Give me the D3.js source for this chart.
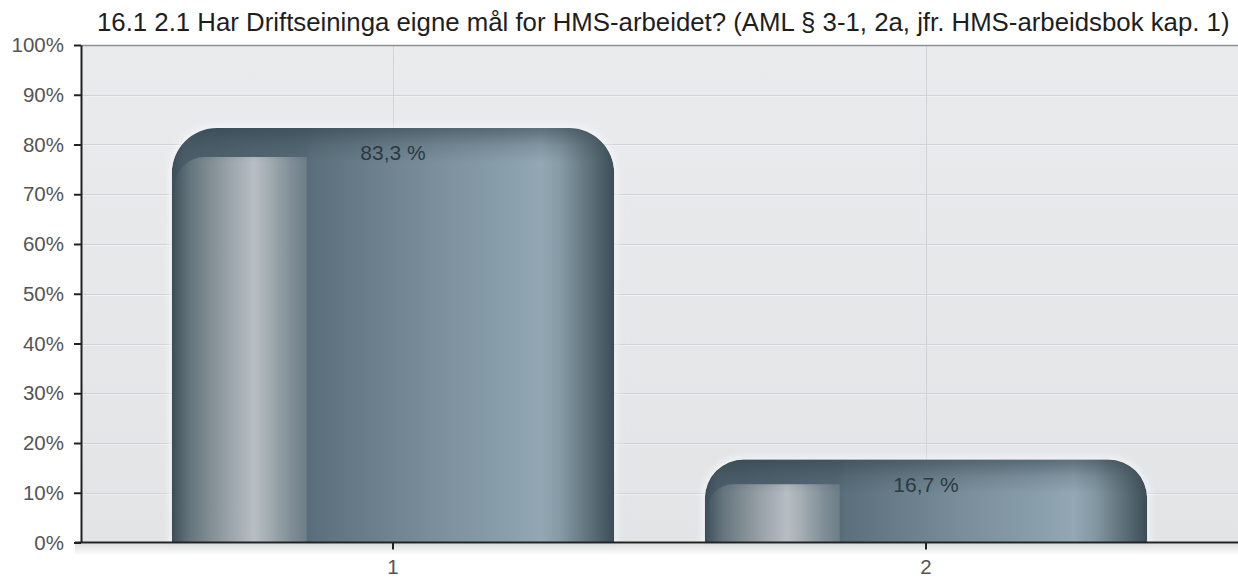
<!DOCTYPE html>
<html>
<head>
<meta charset="utf-8">
<script src="https://cdn.jsdelivr.net/npm/d3@7"></script>
<style>
  html, body { margin: 0; padding: 0; background: #fff; }
  svg { display: block; font-family: "Liberation Sans", Arial, sans-serif; }
</style>
</head>
<body>
<svg id="chart" width="1238" height="578"></svg>
<script>
// ---- data ----
const title = "16.1 2.1 Har Driftseininga eigne mål for HMS-arbeidet? (AML § 3-1, 2a, jfr. HMS-arbeidsbok kap. 1)";
const categories = ["1", "2"];
const values = [83.3, 16.7];
const valueLabels = ["83,3 %", "16,7 %"];
const yTicks = [0, 10, 20, 30, 40, 50, 60, 70, 80, 90, 100];
const yTickLabels = ["0%", "10%", "20%", "30%", "40%", "50%", "60%", "70%", "80%", "90%", "100%"];

// ---- layout ----
const W = 1238, H = 578;
const plot = { left: 81, right: 1238, top: 45, bottom: 542.5 };

const svg = d3.select("#chart");
const defs = svg.append("defs");

const y = d3.scaleLinear().domain([0, 100]).range([plot.bottom, plot.top]);
const x = d3.scaleBand().domain(categories).range([126.5, 1192.5])
  .paddingInner(0.17).paddingOuter(0.085);

// gradients
function linGrad(id, stops, vertical) {
  const g = defs.append("linearGradient").attr("id", id)
    .attr("x1", 0).attr("y1", 0).attr("x2", vertical ? 0 : 1).attr("y2", vertical ? 1 : 0);
  stops.forEach(s => g.append("stop").attr("offset", s[0]).attr("stop-color", s[1])
    .attr("stop-opacity", s[2] == null ? 1 : s[2]));
}
linGrad("bgGrad", [[0, "#e9ebed"], [1, "#e2e4e6"]], true);
linGrad("barGrad", [
  [0, "#3c4e59"], [0.03, "#4b5e69"], [0.3, "#566b77"], [0.32, "#5b707c"],
  [0.45, "#6a7f8b"], [0.6, "#7b909c"], [0.75, "#889eaa"], [0.835, "#93a8b4"],
  [0.88, "#8499a4"], [0.95, "#5b6d77"], [1, "#3c4d57"]
], false);
linGrad("panelGrad", [
  [0, "#44555e"], [0.12, "#66767e"], [0.35, "#8f9a9f"], [0.6, "#b7bec4"],
  [0.7, "#a6afb4"], [0.88, "#7f8e96"], [1, "#6d7e87"]
], false);
linGrad("topShade", [[0, "#2e3f49", 0.55], [0.5, "#2e3f49", 0.18], [1, "#2e3f49", 0]], true);
linGrad("axisShadow", [[0, "#000", 0.13], [1, "#000", 0]], true);

const blur = defs.append("filter").attr("id", "halo").attr("x", "-10%").attr("y", "-10%")
  .attr("width", "120%").attr("height", "120%");
blur.append("feGaussianBlur").attr("stdDeviation", 3);

// plot background
svg.append("rect").attr("x", plot.left).attr("y", plot.top)
  .attr("width", plot.right - plot.left).attr("height", plot.bottom - plot.top)
  .attr("fill", "url(#bgGrad)");

// horizontal gridlines
const grid = svg.append("g");
grid.selectAll("line.h").data(yTicks.filter(d => d > 0 && d < 100)).join("line")
  .attr("x1", plot.left).attr("x2", plot.right)
  .attr("y1", d => Math.round(y(d)) + 0.5).attr("y2", d => Math.round(y(d)) + 0.5)
  .attr("stroke", "#d0d3d6").attr("stroke-width", 1);
grid.selectAll("line.hl").data(yTicks.filter(d => d > 0 && d < 100)).join("line")
  .attr("x1", plot.left).attr("x2", plot.right)
  .attr("y1", d => Math.round(y(d)) + 1.5).attr("y2", d => Math.round(y(d)) + 1.5)
  .attr("stroke", "#f2f4f6").attr("stroke-width", 1).attr("opacity", 0.7);
// vertical gridlines
grid.selectAll("line.v").data(categories).join("line")
  .attr("x1", d => Math.round(x(d) + x.bandwidth() / 2) + 0.5)
  .attr("x2", d => Math.round(x(d) + x.bandwidth() / 2) + 0.5)
  .attr("y1", plot.top).attr("y2", plot.bottom)
  .attr("stroke", "#d0d3d6").attr("stroke-width", 1);

// top border
svg.append("line").attr("x1", plot.left).attr("x2", plot.right)
  .attr("y1", plot.top + 0.5).attr("y2", plot.top + 0.5)
  .attr("stroke", "#8e9194").attr("stroke-width", 1.5);

// bars
function barPath(x0, w, top, bottom, r) {
  return `M${x0},${bottom} L${x0},${top + r} A${r},${r} 0 0 1 ${x0 + r},${top} ` +
    `L${x0 + w - r},${top} A${r},${r} 0 0 1 ${x0 + w},${top + r} L${x0 + w},${bottom} Z`;
}
const bars = categories.map((c, i) => {
  const top = y(values[i]);
  const h = plot.bottom - top;
  return { c, i, x0: x(c), w: x.bandwidth(), top, h, r: Math.min(45, h * 0.47) };
});

const gBars = svg.append("g");
// halo
gBars.selectAll("path.halo").data(bars).join("path")
  .attr("d", d => barPath(d.x0, d.w, d.top, plot.bottom, d.r))
  .attr("fill", "none").attr("stroke", "#f7f9fb").attr("stroke-width", 6)
  .attr("filter", "url(#halo)").attr("opacity", 0.75);

bars.forEach(d => {
  defs.append("clipPath").attr("id", "clip" + d.i)
    .append("path").attr("d", barPath(d.x0, d.w, d.top, plot.bottom, d.r));
});

const bg = gBars.selectAll("g.bar").data(bars).join("g").attr("class", "bar")
  .attr("clip-path", d => `url(#clip${d.i})`);
bg.append("path").attr("d", d => barPath(d.x0, d.w, d.top, plot.bottom, d.r))
  .attr("fill", "url(#barGrad)");
// inner highlighted panel
bg.append("path").attr("d", d => {
  const off = Math.min(29, d.h * 0.3);
  const px = d.x0 + 3, pw = d.w * 0.305 - 3, pt = d.top + off, pr = Math.min(30, d.h * 0.3);
  return `M${px},${plot.bottom} L${px},${pt + pr} A${pr},${pr} 0 0 1 ${px + pr},${pt} L${px + pw},${pt} L${px + pw},${plot.bottom} Z`;
}).attr("fill", "url(#panelGrad)");
// top shading
bg.append("rect").attr("x", d => d.x0).attr("y", d => d.top)
  .attr("width", d => d.w).attr("height", 34).attr("fill", "url(#topShade)");

// value labels
svg.append("g").selectAll("text").data(bars).join("text")
  .attr("x", d => d.x0 + d.w / 2)
  .attr("y", d => d.top + 25)
  .attr("dy", "0.35em")
  .attr("text-anchor", "middle")
  .attr("font-size", 21)
  .attr("fill", "#2b3943")
  .text(d => valueLabels[d.i]);

// x-axis shadow
svg.append("rect").attr("x", 75).attr("y", plot.bottom + 1)
  .attr("width", plot.right - 75).attr("height", 12).attr("fill", "url(#axisShadow)");

// y axis
const yAxis = svg.append("g").attr("transform", `translate(${plot.left},0)`)
  .call(d3.axisLeft(y).tickValues(yTicks).tickFormat((d, i) => yTickLabels[i])
    .tickSize(7).tickSizeOuter(0).tickPadding(10));
yAxis.select(".domain").attr("stroke", "#222").attr("stroke-width", 2);
yAxis.selectAll(".tick line").attr("stroke", "#222").attr("stroke-width", 2);
yAxis.selectAll(".tick text").attr("font-size", 20.5).attr("fill", "#555")
  .attr("font-family", "Liberation Sans, Arial, sans-serif");

// x axis
const xAxis = svg.append("g").attr("transform", `translate(0,${plot.bottom})`)
  .call(d3.axisBottom(x).tickSize(7).tickSizeOuter(0).tickPadding(10));
xAxis.select(".domain").remove();
xAxis.append("line").attr("x1", 75).attr("x2", plot.right).attr("y1", 0).attr("y2", 0)
  .attr("stroke", "#222").attr("stroke-width", 2);
xAxis.selectAll(".tick line").attr("stroke", "#222").attr("stroke-width", 2);
xAxis.selectAll(".tick text").attr("font-size", 20.5).attr("fill", "#555")
  .attr("font-family", "Liberation Sans, Arial, sans-serif");

// title
const t = svg.append("text").attr("x", 97).attr("y", 31)
  .attr("font-size", 20).attr("fill", "#1e1e1e").text(title);
const len = t.node().getComputedTextLength();
t.attr("font-size", 20 * 1133 / len);
</script>
</body>
</html>
